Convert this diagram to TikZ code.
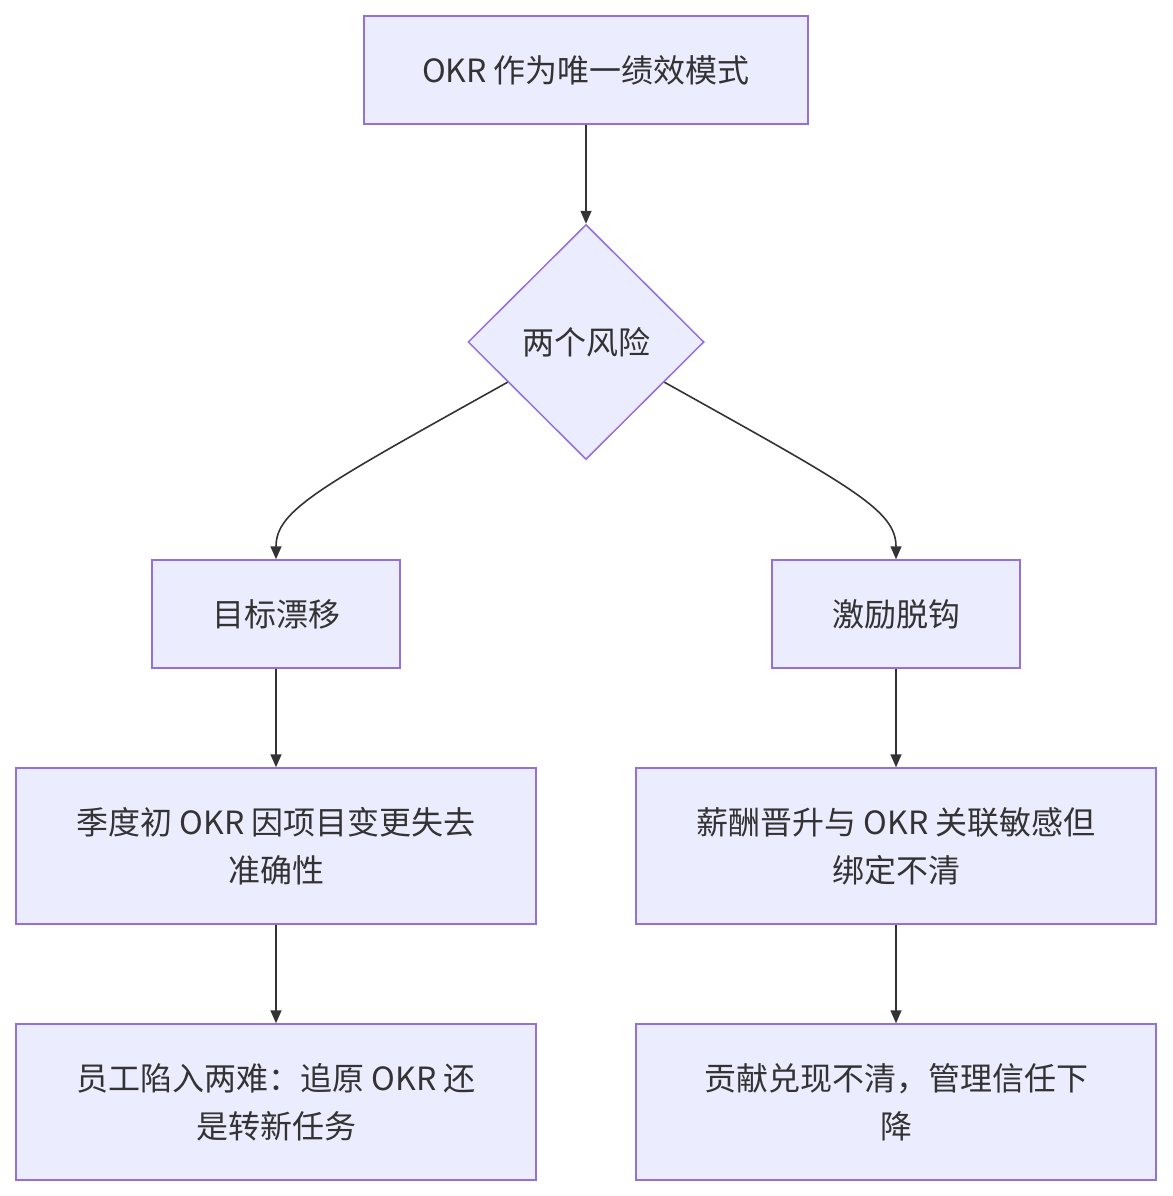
\documentclass[tikz,border=0pt]{standalone}
\usepackage{fontspec}
\setmainfont{Noto Sans CJK SC}
\usetikzlibrary{shapes.geometric,arrows.meta}
\definecolor{boxfill}{HTML}{ECECFF}
\definecolor{boxline}{HTML}{9370DB}
\definecolor{txt}{HTML}{333333}
\begin{document}
\begin{tikzpicture}[x=1pt,y=-1pt,
  every node/.style={text=txt,font=\fontsize{32}{48}\selectfont},
  flowbox/.style={draw=boxline,fill=boxfill,line width=1.5pt,align=center,inner sep=0pt},
  flowdia/.style={diamond,draw=boxline,fill=boxfill,line width=1.5pt,inner sep=0pt,minimum width=236pt,minimum height=235pt},
  conn/.style={draw=txt,line width=1.6pt,-{Triangle[length=13pt,width=11pt]}}]
\useasboundingbox (0,0) rectangle (1172,1196);
\node[flowbox,minimum width=444pt,minimum height=108pt] (top) at (586,70) {OKR 作为唯一绩效模式};
\node[flowdia] (dia) at (586,342) {两个风险};
\node[flowbox,minimum width=248pt,minimum height=108pt] (l1) at (276,614) {目标漂移};
\node[flowbox,minimum width=248pt,minimum height=108pt] (r1) at (896,614) {激励脱钩};
\node[flowbox,minimum width=520pt,minimum height=156pt] (l2) at (276,846) {季度初 OKR 因项目变更失去\\准确性};
\node[flowbox,minimum width=520pt,minimum height=156pt] (r2) at (896,846) {薪酬晋升与 OKR 关联敏感但\\绑定不清};
\node[flowbox,minimum width=520pt,minimum height=156pt] (l3) at (276,1102) {员工陷入两难：追原 OKR 还\\是转新任务};
\node[flowbox,minimum width=520pt,minimum height=156pt] (r3) at (896,1102) {贡献兑现不清，管理信任下\\降};
\path (dia.west) -- (dia.south) coordinate[pos=0.34] (dl);
\path (dia.east) -- (dia.south) coordinate[pos=0.34] (dr);
\draw[conn] (top.south) -- (dia.north);
\draw[conn] (dl) .. controls (320,487) and (276,510) .. (l1.north);
\draw[conn] (dr) .. controls (852,487) and (896,510) .. (r1.north);
\draw[conn] (l1.south) -- (l2.north);
\draw[conn] (r1.south) -- (r2.north);
\draw[conn] (l2.south) -- (l3.north);
\draw[conn] (r2.south) -- (r3.north);
\end{tikzpicture}
\end{document}
